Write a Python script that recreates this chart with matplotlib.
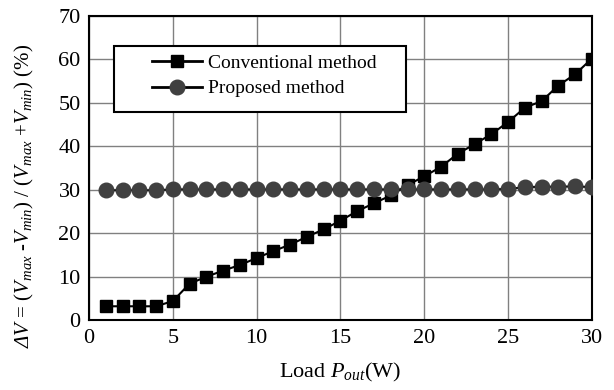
import numpy as np
from matplotlib import pyplot as plt
from matplotlib.patches import Rectangle

plt.rcParams['font.family'] = ['Liberation Serif', 'DejaVu Serif']
plt.rcParams['mathtext.fontset'] = 'custom'
plt.rcParams['mathtext.rm'] = 'Liberation Serif:italic'
plt.rcParams['mathtext.it'] = 'Liberation Serif:italic'

# load (W)
load = list(range(1, 31))
conventional = [3.2, 3.2, 3.2, 3.2, 4.4, 8.4, 10.0, 11.4, 12.7, 14.3,
                15.9, 17.4, 19.2, 20.9, 22.9, 25.1, 26.9, 28.7, 31.1, 33.1,
                35.3, 38.3, 40.5, 42.8, 45.6, 48.9, 50.4, 54.0, 56.6, 60.2]
proposed = [29.9, 29.9, 29.9, 29.9, 30.1, 30.1, 30.1, 30.1, 30.1, 30.1,
            30.1, 30.1, 30.1, 30.1, 30.1, 30.1, 30.1, 30.1, 30.1, 30.1,
            30.1, 30.1, 30.1, 30.1, 30.2, 30.6, 30.7, 30.7, 30.8, 30.6]

fig = plt.figure(figsize=(6.14, 3.9), dpi=100)
ax = fig.add_axes([0.145, 0.179, 0.819, 0.780])

ax.plot(load, conventional, color='black', lw=1.5, marker='s', ms=9,
        mfc='black', mec='black', label='Conventional method', zorder=3)
ax.plot(load, proposed, color='black', lw=1.5, marker='o', ms=10.5,
        mfc='#404040', mec='#404040', label='Proposed method', zorder=3)

ax.set_xlim(0, 30)
ax.set_ylim(0, 70)
ax.set_xticks(np.arange(0, 31, 5))
ax.set_yticks(np.arange(0, 71, 10))
ax.tick_params(length=0, labelsize=16, pad=6)
ax.grid(color='#808080', lw=1)
ax.set_axisbelow(True)
for s in ax.spines.values():
    s.set_linewidth(1.5)

ax.set_xlabel(r'Load $P_{out}$(W)', fontsize=16, labelpad=10)
ax.set_ylabel(r'$\Delta V$ = ($V_{max}$ -$V_{min}$) / ($V_{max}$ +$V_{min}$) (%)',
              fontsize=15)
ax.yaxis.set_label_coords(-0.105, 0.41)

# legend box
ax.add_patch(Rectangle((0.05, 0.684), 0.58, 0.217, transform=ax.transAxes,
                       facecolor='white', edgecolor='black', lw=1.5, zorder=4))
leg = ax.legend(loc='upper left', bbox_to_anchor=(0.125, 0.874), fontsize=14,
                frameon=False, borderpad=0, borderaxespad=0,
                handlelength=2.6, handletextpad=0.3, labelspacing=0.4)
leg.set_zorder(5)
for h in leg.get_lines():
    h.set_linewidth(2)

plt.savefig('out.png', dpi=100)
